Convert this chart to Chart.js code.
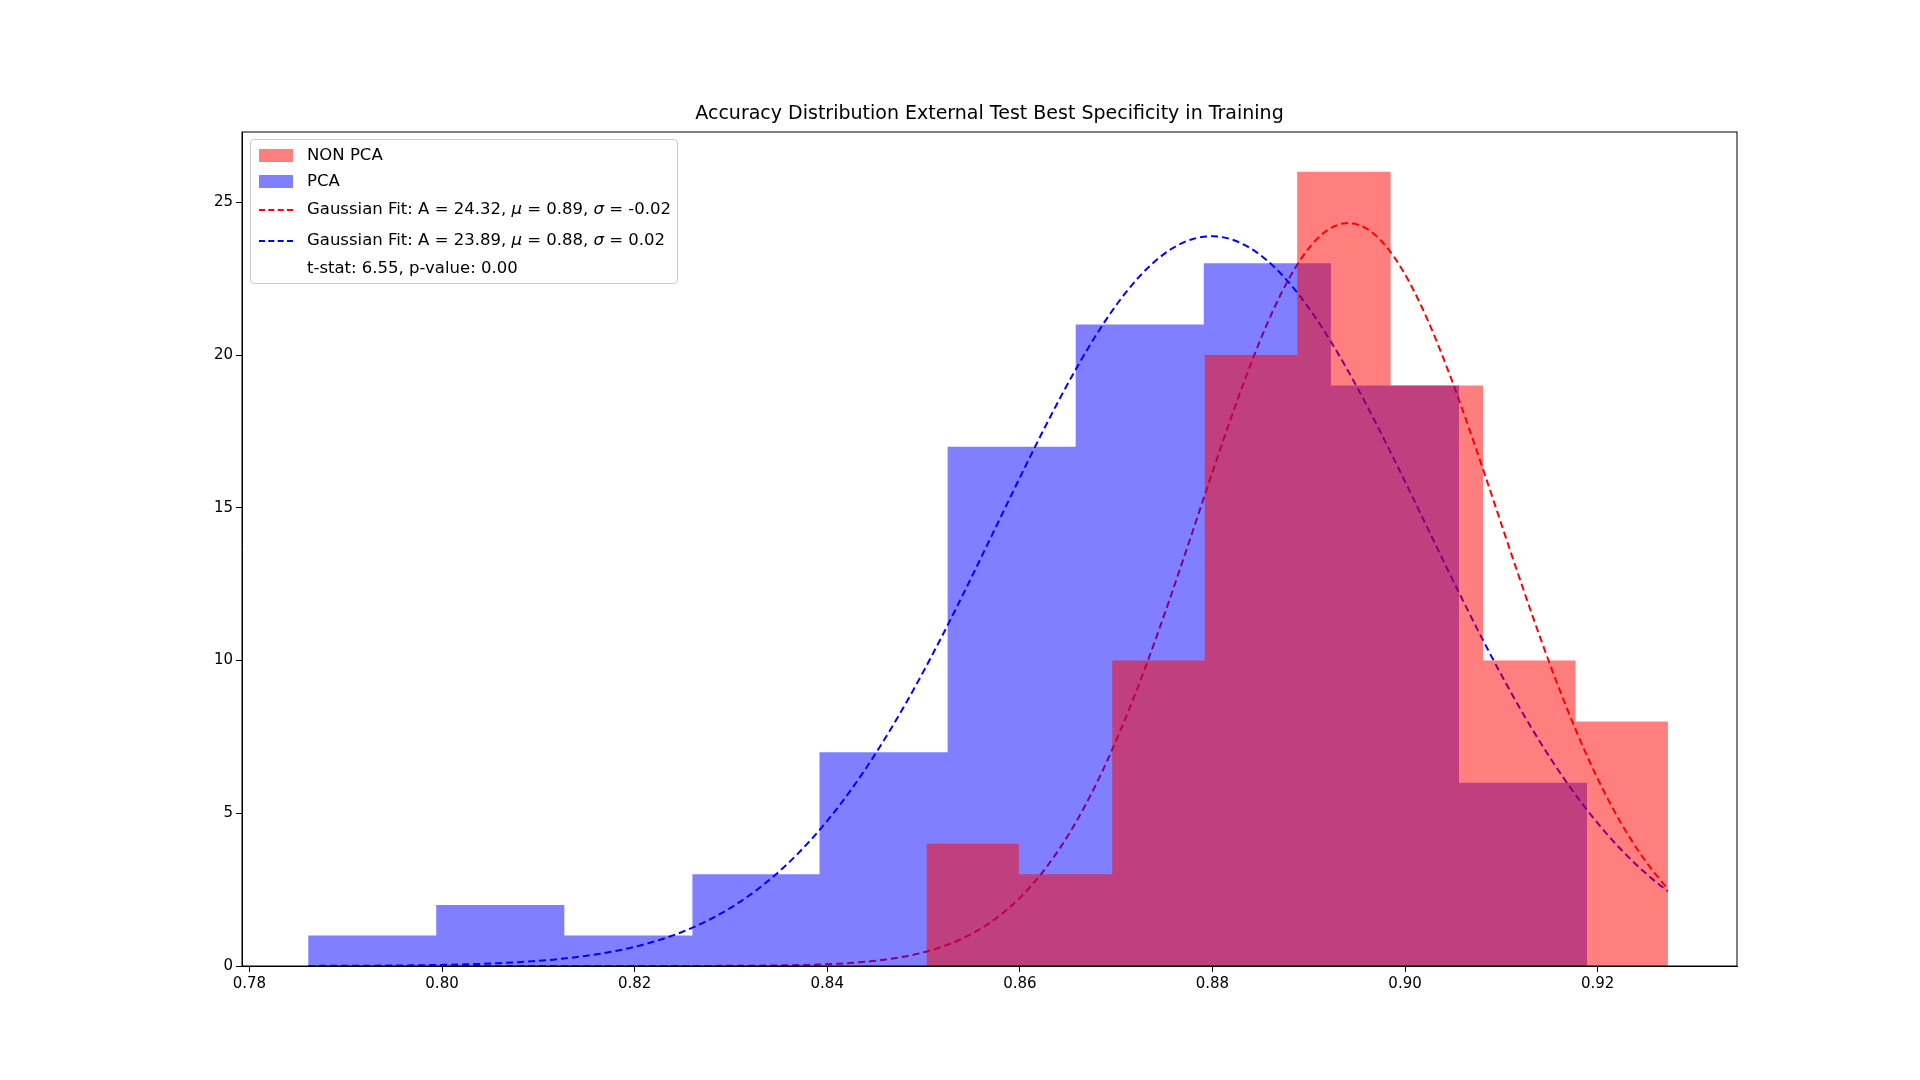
<!DOCTYPE html>
<html>
<head>
<meta charset="utf-8">
<script src="https://cdn.jsdelivr.net/npm/chart.js@4"></script>
<style>
  body { margin: 0; background: #fff; font-family: "DejaVu Sans", sans-serif; }
  #wrap { position: relative; width: 1920px; height: 1080px; }
  #title { position: absolute; left: 242px; width: 1495px; top: 101px; text-align: center; font-size: 19px; }
  #legend { position: absolute; left: 250px; top: 139px; width: 426px; height: 143px; border: 1px solid #ccc; border-radius: 4px; background: rgba(255,255,255,0.8); font-size: 16.5px; }
  .row { position: absolute; left: 8px; height: 20px; line-height: 20px; white-space: nowrap; }
  .sw { display: inline-block; width: 34px; height: 13px; vertical-align: middle; margin-right: 14px; }
  .dash { display: inline-block; width: 34px; height: 0; border-top: 2px dashed; vertical-align: middle; margin-right: 14px; }
</style>
</head>
<body>
<div id="wrap">
  <canvas id="chart" width="1920" height="1080"></canvas>
  <div id="title">Accuracy Distribution External Test Best Specificity in Training</div>
  <div id="legend">
    <div class="row" style="top:5px"><span class="sw" style="background:rgba(255,0,0,0.5)"></span>NON PCA</div>
    <div class="row" style="top:31px"><span class="sw" style="background:rgba(0,0,255,0.5)"></span>PCA</div>
    <div class="row" style="top:59px"><span class="dash" style="border-color:#f00"></span>Gaussian Fit: A = 24.32, <i>μ</i> = 0.89, <i>σ</i> = -0.02</div>
    <div class="row" style="top:90px"><span class="dash" style="border-color:#00f"></span>Gaussian Fit: A = 23.89, <i>μ</i> = 0.88, <i>σ</i> = 0.02</div>
    <div class="row" style="top:118px"><span class="dash" style="border-color:transparent"></span>t-stat: 6.55, p-value: 0.00</div>
  </div>
</div>
<script>
// histogram bins
const pcaEdges = [0.7861, 0.7994, 0.8127, 0.8260, 0.8392, 0.8525, 0.8658, 0.8791, 0.8923, 0.9056, 0.9189];
const pcaCounts = [1, 2, 1, 3, 7, 17, 21, 23, 19, 6];
const nonPcaEdges = [0.8503, 0.8599, 0.8696, 0.8792, 0.8888, 0.8985, 0.9081, 0.9177, 0.9273];
const nonPcaCounts = [4, 3, 10, 20, 26, 19, 10, 8];

// fitted gaussian parameters
const nonPcaFit = { A: 24.32, mu: 0.8941, sigma: 0.0156 };
const pcaFit = { A: 23.89, mu: 0.8799, sigma: 0.0222 };
const fitRange = [0.7861, 0.9273];

const xTicks = [0.78, 0.80, 0.82, 0.84, 0.86, 0.88, 0.90, 0.92];
const yTicks = [0, 5, 10, 15, 20, 25];

function histPoints(edges, counts) {
    const pts = counts.map((c, i) => ({ x: edges[i], y: c }));
    pts.push({ x: edges[edges.length - 1], y: counts[counts.length - 1] });
    return pts;
}

function gaussPoints(fit) {
    const pts = [];
    const n = 200;
    for (let i = 0; i <= n; i++) {
        const x = fitRange[0] + (fitRange[1] - fitRange[0]) * i / n;
        pts.push({ x, y: fit.A * Math.exp(-((x - fit.mu) ** 2) / (2 * fit.sigma ** 2)) });
    }
    return pts;
}

const frame = {
    id: 'frame',
    afterDraw(chart) {
        const { ctx, chartArea: a } = chart;
        ctx.save();
        ctx.strokeStyle = '#000';
        ctx.lineWidth = 1;
        ctx.strokeRect(a.left, a.top, a.right - a.left, a.bottom - a.top);
        ctx.restore();
    }
};

const tickFont = { family: 'DejaVu Sans', size: 15 };

new Chart(document.getElementById('chart').getContext('2d'), {
    type: 'line',
    data: {
        datasets: [
            { data: histPoints(nonPcaEdges, nonPcaCounts), stepped: true, fill: 'origin', backgroundColor: 'rgba(255,0,0,0.5)', borderWidth: 0, pointRadius: 0 },
            { data: histPoints(pcaEdges, pcaCounts), stepped: true, fill: 'origin', backgroundColor: 'rgba(0,0,255,0.5)', borderWidth: 0, pointRadius: 0 },
            { data: gaussPoints(nonPcaFit), borderColor: '#f00', borderDash: [7, 4], borderWidth: 2, pointRadius: 0, fill: false },
            { data: gaussPoints(pcaFit), borderColor: '#00f', borderDash: [7, 4], borderWidth: 2, pointRadius: 0, fill: false }
        ]
    },
    options: {
        responsive: false,
        animation: false,
        layout: { padding: { left: 182, right: 183, top: 132, bottom: 74 } },
        plugins: { legend: { display: false }, tooltip: { enabled: false } },
        scales: {
            x: {
                type: 'linear', min: 0.77923, max: 0.93447,
                afterBuildTicks: s => { s.ticks = xTicks.map(v => ({ value: v })); },
                afterFit: s => { s.height = 40; },
                grid: { drawOnChartArea: false, tickLength: 6, tickColor: '#000' },
                border: { color: '#000' },
                ticks: { color: '#000', font: tickFont, maxRotation: 0, callback: v => v.toFixed(2) }
            },
            y: {
                type: 'linear', min: 0, max: 27.3,
                afterBuildTicks: s => { s.ticks = yTicks.map(v => ({ value: v })); },
                afterFit: s => { s.width = 60; },
                grid: { drawOnChartArea: false, tickLength: 6, tickColor: '#000' },
                border: { color: '#000' },
                ticks: { color: '#000', font: tickFont }
            }
        }
    },
    plugins: [frame]
});
</script>
</body>
</html>
